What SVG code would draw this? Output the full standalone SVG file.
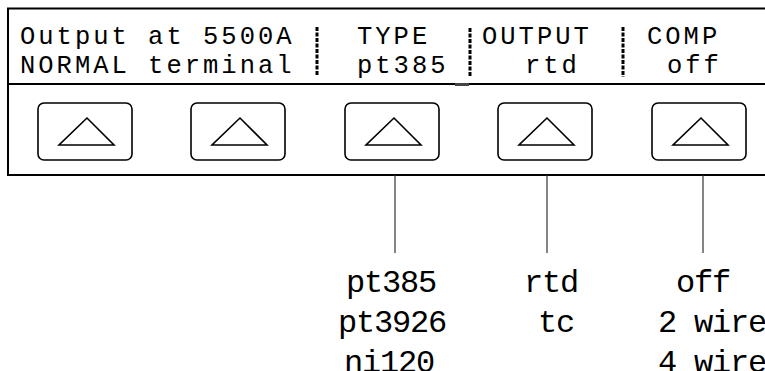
<svg xmlns="http://www.w3.org/2000/svg" width="765" height="371" viewBox="0 0 765 371">
<style>
.lcd{font-family:"Liberation Mono","DejaVu Sans Mono",monospace;font-size:25.5px;letter-spacing:3px;fill:#000}
.opt{font-family:"Liberation Mono","DejaVu Sans Mono",monospace;font-size:32px;letter-spacing:-1.2px;fill:#000}
.frame{fill:none;stroke:#000}
.btn{fill:#fff;stroke:#000;stroke-width:1.6}
.tri{fill:none;stroke:#000;stroke-width:1.6;stroke-linejoin:miter}
.sep{stroke:#000;stroke-width:3;stroke-dasharray:4 1.5}
.lead{stroke:#333;stroke-width:1.2}
</style>
<g id="panel">
<path class="frame" d="M765 8.5H8V175H765" stroke-width="2"/>
<line class="frame" x1="8" y1="84" x2="765" y2="84" stroke-width="2"/>
<rect x="455" y="83" width="14" height="3" fill="#444"/>
<line class="sep" x1="317" y1="27" x2="317" y2="76"/>
<line class="sep" x1="470" y1="28" x2="470" y2="77"/>
<line class="sep" x1="623" y1="27" x2="623" y2="77"/>
<text class="lcd" x="20" y="43.5">Output at 5500A</text>
<text class="lcd" x="20" y="72.5">NORMAL terminal</text>
<text class="lcd" x="357" y="43.5">TYPE</text>
<text class="lcd" x="357" y="72.5">pt385</text>
<text class="lcd" x="482" y="43.5">OUTPUT</text>
<text class="lcd" x="525" y="72.5">rtd</text>
<text class="lcd" x="647" y="43.5">COMP</text>
<text class="lcd" x="667" y="72.5">off</text>
</g>
<g id="softkey1"><rect class="btn" x="38" y="103" width="94" height="57" rx="6"/><path class="tri" d="M87 118L59 145H114Z"/></g>
<g id="softkey2"><rect class="btn" x="191" y="103" width="94" height="57" rx="6"/><path class="tri" d="M240 118L212 145H267Z"/></g>
<g id="softkey3"><rect class="btn" x="345" y="103" width="94" height="57" rx="6"/><path class="tri" d="M394 118L366 145H421Z"/></g>
<g id="softkey4"><rect class="btn" x="498" y="103" width="94" height="57" rx="6"/><path class="tri" d="M547 118L519 145H574Z"/></g>
<g id="softkey5"><rect class="btn" x="652" y="103" width="94" height="57" rx="6"/><path class="tri" d="M701 118L673 145H728Z"/></g>
<g id="connectors">
<line class="lead" x1="395" y1="175" x2="395" y2="253"/>
<line class="lead" x1="547" y1="175" x2="547" y2="253"/>
<line class="lead" x1="703" y1="175" x2="703" y2="253"/>
</g>
<g id="type-options">
<text class="opt" x="346" y="292">pt385</text>
<text class="opt" x="338" y="332">pt3926</text>
<text class="opt" x="344" y="372">ni120</text>
</g>
<g id="output-options">
<text class="opt" x="524" y="292">rtd</text>
<text class="opt" x="538" y="332">tc</text>
</g>
<g id="comp-options">
<text class="opt" x="676" y="292">off</text>
<text class="opt" x="658" y="332">2 wire</text>
<text class="opt" x="658" y="372">4 wire</text>
</g>
</svg>
